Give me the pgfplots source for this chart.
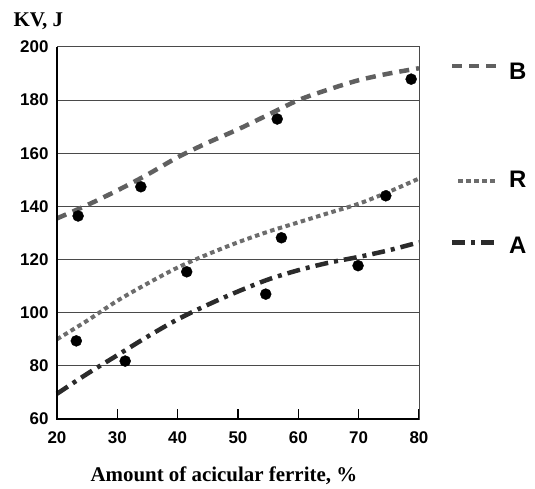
\documentclass[border=0pt]{standalone}
\usepackage{fontspec}
\setmainfont{Liberation Serif}
\setsansfont{Liberation Sans}
\usepackage{pgfplots}
\pgfplotsset{compat=1.18}

\definecolor{bcol}{HTML}{606060}
\definecolor{rcol}{HTML}{6C6C6C}
\definecolor{acol}{HTML}{2B2B2B}
\definecolor{gridc}{HTML}{4A4A4A}

\tikzset{
  bline/.style={bcol, line width=4.5bp, dash pattern=on 10bp off 7bp},
  rline/.style={rcol, line width=4bp, dash pattern=on 4.5bp off 3.5bp},
  aline/.style={acol, line width=4.5bp, dash pattern=on 13bp off 6bp on 4bp off 6bp},
}

\begin{document}
\begin{tikzpicture}
\useasboundingbox (-57bp,-70bp) rectangle (478bp,419bp);
\begin{axis}[
  scale only axis, width=362bp, height=372bp,
  xmin=20, xmax=80, ymin=60, ymax=200,
  xtick={20,30,...,80}, ytick={60,80,...,200},
  xtick pos=bottom, tick align=inside, major tick length=10bp,
  ytick style={draw=none},
  xtick style={black, line width=1.2bp},
  ymajorgrids, grid style={gridc, line width=1bp},
  axis line style={gridc, line width=1bp},
  /pgf/number format/assume math mode=true,
  ticklabel style={font=\fontsize{17}{17}\selectfont\sffamily\bfseries},
  yticklabel style={xshift=-5bp},
  xticklabel style={yshift=-9bp},
  clip=false,
  every axis x label/.style={at={(rel axis cs:0.461,0)}, anchor=base, yshift=-62bp,
    font=\fontsize{21}{21}\selectfont\bfseries},
  every axis y label/.style={at={(rel axis cs:0,1)}, anchor=base west, xshift=-47bp, yshift=20bp,
    font=\fontsize{21}{21}\selectfont\bfseries},
  xlabel={Amount of acicular ferrite, \%},
  ylabel={KV, J},
]
% fitted curves
\addplot[bline, smooth] coordinates {
  (20,135.5) (25,140.5) (30,146) (35,152) (40,158.5) (45,164) (50,169)
  (55,174.5) (60,180) (65,184) (70,187.5) (75,190) (80,192)
};
\addplot[rline, smooth] coordinates {
  (20,90) (25,97) (30,104.5) (35,111) (40,117) (45,122) (50,126.5)
  (55,130.5) (60,134) (65,137.5) (70,141) (75,145.5) (80,150.5)
};
\addplot[aline, smooth] coordinates {
  (20,69.5) (25,77) (30,84) (35,91) (40,97.5) (45,103) (50,108)
  (55,112.5) (60,116) (65,118.8) (70,121) (75,123.5) (80,126.5)
};
% measured points
\addplot[only marks, mark=*, mark size=5.5bp, black] coordinates {
  (23.5,136.4) (33.9,147.4) (56.5,172.9) (78.7,187.9)
  (23.2,89.4) (41.5,115.4) (57.2,128.2) (74.5,144.0)
  (31.3,81.8) (54.6,107.0) (69.9,117.7)
};
% thick left and bottom axis
\draw[black, line width=2.7bp] (rel axis cs:0,1) -- (rel axis cs:0,0) -- (rel axis cs:1,0);
% curve keys
\draw[bline] (axis cs:85.5,192.9) -- (axis cs:93.3,192.9);
\draw[rline] (axis cs:86.5,149.7) -- (axis cs:92.8,149.7);
\draw[aline] (axis cs:85.5,126.5) -- (axis cs:93.3,126.5);
\node[anchor=west, inner sep=0, font=\fontsize{24}{24}\selectfont\sffamily\bfseries] at (axis cs:94.9,191) {B};
\node[anchor=west, inner sep=0, font=\fontsize{24}{24}\selectfont\sffamily\bfseries] at (axis cs:94.9,150.3) {R};
\node[anchor=west, inner sep=0, font=\fontsize{24}{24}\selectfont\sffamily\bfseries] at (axis cs:94.9,125.5) {A};
\end{axis}
\end{tikzpicture}
\end{document}
